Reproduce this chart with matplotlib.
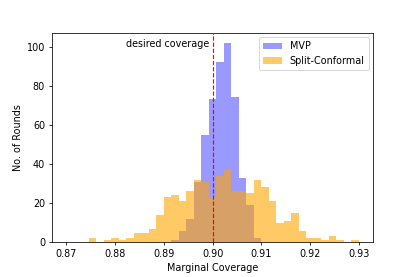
import numpy as np
import matplotlib
matplotlib.use("Agg")
import matplotlib.pyplot as plt

# bin edges: 39 equal bins from 0.87 to 0.93
bin_lo, bin_hi, n_edges = 0.87, 0.93, 40

# counts per bin
mvp_counts = [0, 0, 0, 0, 0, 0, 0, 0, 0, 0, 0, 0, 0, 0,
              1, 6, 12, 31, 55, 73, 92, 102, 74, 33, 19, 2,
              0, 0, 0, 0, 0, 0, 0, 0, 0, 0, 0, 0, 0]
split_counts = [0, 0, 0, 2, 0, 1, 2, 1, 2, 5, 5, 7, 14, 23, 24, 21, 26, 32, 31,
                23, 34, 37, 26, 26, 25, 32, 28, 21, 10, 11, 15, 6, 2, 2, 1, 3, 1, 0, 1]

target = 0.90
labels = ["MVP", "Split-Conformal"]

edges = np.linspace(bin_lo, bin_hi, n_edges)
centers = (edges[:-1] + edges[1:]) / 2

fig = plt.figure(figsize=(415 / 69.2, 277 / 69.2), dpi=69.2)
ax = fig.add_axes([0.1248, 0.1253, 0.775, 0.7567])

ax.hist(centers, bins=edges, weights=mvp_counts, color="blue", alpha=0.4, label=labels[0])
ax.hist(centers, bins=edges, weights=split_counts, color="orange", alpha=0.6, label=labels[1])
ax.axvline(target, color="red", linestyle="--", linewidth=1.2, zorder=3)
ax.text(target - 0.0007, 100, "desired coverage", ha="right")

ax.set_xlabel("Marginal Coverage")
ax.set_ylabel("No. of Rounds")
ax.set_xticks([0.87, 0.88, 0.89, 0.90, 0.91, 0.92, 0.93])
ax.set_yticks([0, 20, 40, 60, 80, 100])
ax.legend(loc="upper right")

fig.savefig("out.png", dpi=69.2)
